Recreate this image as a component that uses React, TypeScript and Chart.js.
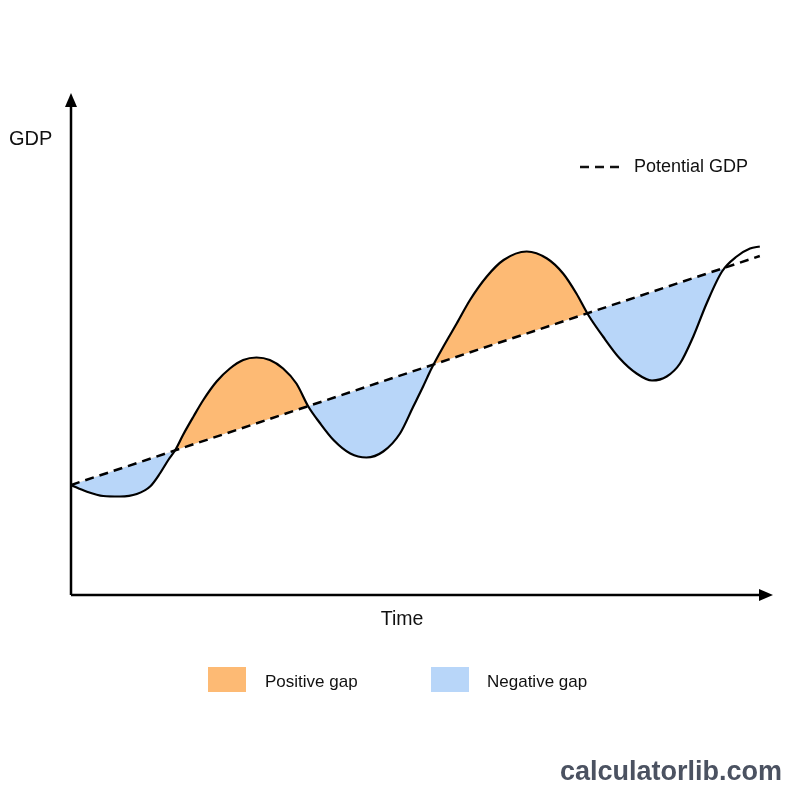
import React, { useEffect, useRef } from "react";
import { Chart, registerables } from "chart.js";

Chart.register(...registerables);

// Time (x) and GDP (y) in arbitrary units
const actualTime = [0, 2.2, 4.6, 7.0, 9.4, 11.3, 12.7, 13.9, 14.9, 16.0, 17.5, 18.9, 20.8, 22.7, 24.6, 26.5, 28.4, 30.3, 32.2, 33.9, 35.5, 37.5, 39.9, 42.2, 44.6, 47.0, 48.9, 50.3, 51.5, 53.2, 55.1, 57.0, 59.4, 61.8, 65.1, 68.0, 70.3, 72.2, 73.9, 76.0, 78.4, 80.8, 83.0, 85.1, 87.0, 88.9, 90.8, 93.0, 95.1, 97.0, 98.4];
const actualGDP = [22.0, 20.7, 19.8, 19.7, 20.2, 21.7, 24.3, 27.0, 29.0, 32.0, 35.7, 39.0, 42.7, 45.3, 47.0, 47.5, 47.0, 45.3, 42.3, 37.7, 34.5, 31.0, 28.3, 27.5, 28.7, 32.3, 37.7, 41.7, 45.3, 49.7, 54.3, 59.0, 63.7, 67.0, 68.7, 67.3, 64.3, 60.3, 56.0, 51.7, 47.3, 44.3, 42.9, 43.7, 46.3, 51.7, 58.3, 64.7, 67.7, 69.3, 69.7];
const potentialTime = [0, 98.4];
const potentialGDP = [22, 67.8];
// the shaded gap stops at the last crossing
const gapEndTime = 93.0;

const axisLabels = { y: "GDP", x: "Time" };
const legendLabels = { potential: "Potential GDP", positive: "Positive gap", negative: "Negative gap" };
const watermark = "calculatorlib.com";

const ORANGE = "#FDBA74";
const BLUE = "#B8D6F9";

export default function App() {
  const ref = useRef<HTMLCanvasElement | null>(null);
  useEffect(() => {
    document.body.style.margin = "0";
    const canvas = ref.current!;
    const gapLimit = {
      id: "gapLimit",
      afterDatasetDraw(chart: any, args: any) {
        if (args.index !== 2) return;
        const ctx = chart.ctx as CanvasRenderingContext2D;
        const { right, top, bottom } = chart.chartArea;
        const xEnd = chart.scales.x.getPixelForValue(gapEndTime);
        ctx.save();
        ctx.fillStyle = "#fff";
        ctx.fillRect(xEnd, top - 1, right - xEnd + 2, bottom - top + 2);
        ctx.restore();
      },
    };
    const overlay = {
      id: "overlay",
      afterDraw(chart: any) {
        const ctx = chart.ctx as CanvasRenderingContext2D;
        const { left, right, top, bottom } = chart.chartArea;
        ctx.save();
        ctx.strokeStyle = "#000";
        ctx.fillStyle = "#000";
        ctx.lineWidth = 2.5;
        ctx.beginPath();
        ctx.moveTo(left, bottom);
        ctx.lineTo(left, top + 6);
        ctx.moveTo(left, bottom);
        ctx.lineTo(right - 6, bottom);
        ctx.stroke();
        ctx.beginPath();
        ctx.moveTo(left, top - 2);
        ctx.lineTo(left - 6, top + 12);
        ctx.lineTo(left + 6, top + 12);
        ctx.closePath();
        ctx.fill();
        ctx.beginPath();
        ctx.moveTo(right + 2, bottom);
        ctx.lineTo(right - 12, bottom - 6);
        ctx.lineTo(right - 12, bottom + 6);
        ctx.closePath();
        ctx.fill();
        ctx.textBaseline = "middle";
        ctx.fillStyle = "#111";
        ctx.font = '20px "Liberation Sans", Arial, sans-serif';
        ctx.textAlign = "left";
        ctx.fillText(axisLabels.y, 9, 139);
        ctx.font = '19.5px "Liberation Sans", Arial, sans-serif';
        ctx.textAlign = "center";
        ctx.fillText(axisLabels.x, 402, 620);
        ctx.strokeStyle = "#111";
        ctx.lineWidth = 2.5;
        ctx.setLineDash([9, 6]);
        ctx.beginPath();
        ctx.moveTo(580, 167);
        ctx.lineTo(624, 167);
        ctx.stroke();
        ctx.setLineDash([]);
        ctx.font = '18px "Liberation Sans", Arial, sans-serif';
        ctx.textAlign = "left";
        ctx.fillText(legendLabels.potential, 634, 167);
        ctx.fillStyle = ORANGE;
        ctx.fillRect(208, 667, 38, 25);
        ctx.fillStyle = BLUE;
        ctx.fillRect(431, 667, 38, 25);
        ctx.fillStyle = "#111";
        ctx.font = '17px "Liberation Sans", Arial, sans-serif';
        ctx.fillText(legendLabels.positive, 265, 682);
        ctx.fillText(legendLabels.negative, 487, 682);
        ctx.font = 'bold 27px "Liberation Sans", Arial, sans-serif';
        ctx.fillStyle = "#4B5261";
        ctx.textAlign = "right";
        ctx.fillText(watermark, 782, 773);
        ctx.restore();
      },
    };
    const actualPts = actualTime.map((t, i) => ({ x: t, y: actualGDP[i] }));
    const chart = new Chart(canvas, {
      type: "line",
      data: {
        datasets: [
          {
            label: legendLabels.potential,
            data: potentialTime.map((t, i) => ({ x: t, y: potentialGDP[i] })),
            borderColor: "#000",
            borderWidth: 2.5,
            borderDash: [9, 6],
            pointRadius: 0,
            fill: false,
            order: 0,
          },
          {
            label: "Actual GDP",
            data: actualPts,
            borderColor: "#000",
            borderWidth: 2.2,
            pointRadius: 0,
            cubicInterpolationMode: "monotone",
            fill: false,
            order: 1,
          },
          {
            label: "Gap",
            data: actualPts,
            borderColor: "rgba(0,0,0,0)",
            borderWidth: 0,
            pointRadius: 0,
            cubicInterpolationMode: "monotone",
            fill: { target: 0, above: ORANGE, below: BLUE },
            order: 2,
          },
        ],
      },
      options: {
        responsive: false,
        animation: false,
        layout: { padding: { left: 71, right: 29, top: 95, bottom: 205 } },
        scales: {
          x: { type: "linear", min: 0, max: 100, display: false },
          y: { type: "linear", min: 0, max: 100, display: false },
        },
        plugins: { legend: { display: false }, tooltip: { enabled: false }, title: { display: false } },
      },
      plugins: [gapLimit, overlay],
    });
    return () => chart.destroy();
  }, []);
  return <canvas ref={ref} width={800} height={800} style={{ display: "block", background: "#fff" }} />;
}
